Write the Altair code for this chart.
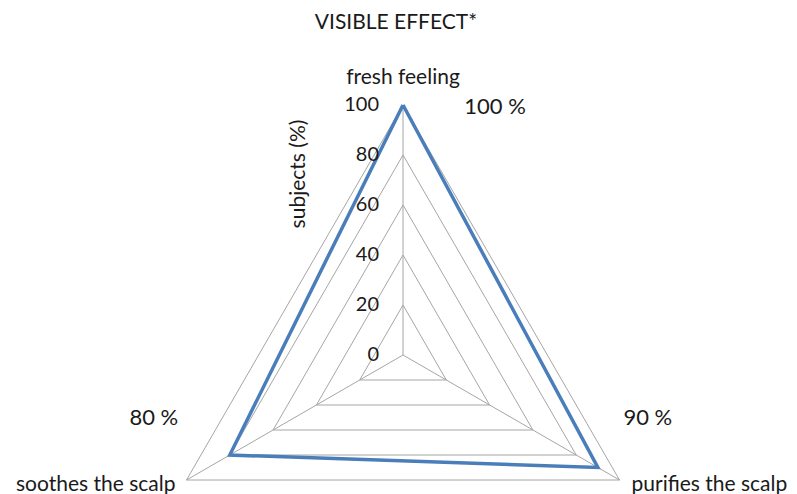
import altair as alt
import numpy as np
import pandas as pd

# ---- data ----
categories = ["fresh feeling", "purifies the scalp", "soothes the scalp"]
values = [100, 90, 80]
grid_levels = [20, 40, 60, 80, 100]
tick_values = [0, 20, 40, 60, 80, 100]
tick_labels = ["0", "20", "40", "60", "80", "100"]
value_labels = ["100 %", "90 %", "80 %"]
title_text = "VISIBLE EFFECT*"
axis_title = "subjects (%)"

# ---- layout ----
W, H = 781, 486
CX, CY = 395.0, 347.0      # centre of the radar in view pixels
PPU = 2.5                  # pixels per value unit
FONT = "Lato"
FS = 21
FS_TICK = 20
FS_VAL = 22
GRID_COLOR = "#A6A6A6"
LINE_COLOR = "#4A7EBB"
TEXT_COLOR = "#1A1A1A"

angles = np.deg2rad([90.0, -30.0, 210.0])
ux, uy = np.cos(angles), np.sin(angles)

xdom = [-CX / PPU, (W - CX) / PPU]
ydom = [(CY - H) / PPU, CY / PPU]
xs = alt.Scale(domain=xdom, nice=False, zero=False)
ys = alt.Scale(domain=ydom, nice=False, zero=False)

def X(f="x"):
    return alt.X(f"{f}:Q", scale=xs, axis=None)

def Y(f="y"):
    return alt.Y(f"{f}:Q", scale=ys, axis=None)

# grid triangles
grid_rows = []
for lv in grid_levels:
    for k in range(4):
        i = k % 3
        grid_rows.append({"level": lv, "o": k, "x": lv * ux[i], "y": lv * uy[i]})
grid_df = pd.DataFrame(grid_rows)

# spokes
spoke_df = pd.DataFrame({"x": [0.0] * 3, "y": [0.0] * 3,
                         "x2": [100 * ux[i] for i in range(3)],
                         "y2": [100 * uy[i] for i in range(3)]})

# series
ser_rows = []
for k in range(4):
    i = k % 3
    ser_rows.append({"o": k, "x": values[i] * ux[i], "y": values[i] * uy[i]})
ser_df = pd.DataFrame(ser_rows)

grid = alt.Chart(grid_df).mark_line(color=GRID_COLOR, strokeWidth=1).encode(
    x=X(), y=Y(), order="o:Q", detail="level:N")
spokes = alt.Chart(spoke_df).mark_rule(color=GRID_COLOR, strokeWidth=1).encode(
    x=X(), y=Y(), x2="x2:Q", y2="y2:Q")
series = alt.Chart(ser_df).mark_line(color=LINE_COLOR, strokeWidth=3.5, strokeJoin="miter").encode(
    x=X(), y=Y(), order="o:Q")

# tick labels along vertical axis
tick_df = pd.DataFrame({"x": [-9.6] * len(tick_values), "y": tick_values, "t": tick_labels})
ticks = alt.Chart(tick_df).mark_text(align="right", baseline="middle", font=FONT,
                                      fontSize=FS_TICK, color=TEXT_COLOR).encode(
    x=X(), y=Y(), text="t:N")

# category labels (offsets in pixels from the outer vertices)
cat_off = [(0, 27), (12, -5), (-11, -5)]
cat_align = ["center", "left", "right"]
cat_layers = []
for i in range(3):
    d = pd.DataFrame({"x": [100 * ux[i] + cat_off[i][0] / PPU],
                      "y": [100 * uy[i] + cat_off[i][1] / PPU],
                      "t": [categories[i]]})
    cat_layers.append(alt.Chart(d).mark_text(align=cat_align[i], baseline="middle", font=FONT,
                                             fontSize=FS, color=TEXT_COLOR).encode(
        x=X(), y=Y(), text="t:N"))

# value labels (offsets in pixels from the data points)
val_off = [(92, -2), (50, 49.5), (-76, 37)]
vrows = []
for i in range(3):
    vrows.append({"x": values[i] * ux[i] + val_off[i][0] / PPU,
                  "y": values[i] * uy[i] + val_off[i][1] / PPU,
                  "t": value_labels[i]})
val_df = pd.DataFrame(vrows)
vals = alt.Chart(val_df).mark_text(align="center", baseline="middle", font=FONT,
                                    fontSize=FS_VAL, color=TEXT_COLOR).encode(
    x=X(), y=Y(), text="t:N")

# title and axis title
title_df = pd.DataFrame({"x": [-7 / PPU], "y": [(CY - 15) / PPU], "t": [title_text]})
title = alt.Chart(title_df).mark_text(align="center", baseline="middle", font=FONT,
                                       fontSize=FS, color=TEXT_COLOR).encode(
    x=X(), y=Y(), text="t:N")
atitle_df = pd.DataFrame({"x": [-104 / PPU], "y": [181 / PPU], "t": [axis_title]})
atitle = alt.Chart(atitle_df).mark_text(align="center", baseline="middle", font=FONT,
                                         fontSize=FS, angle=270, color=TEXT_COLOR).encode(
    x=X(), y=Y(), text="t:N")

chart = alt.layer(grid, spokes, series, ticks, *cat_layers, vals, title, atitle).properties(
    width=W, height=H, padding=0, autosize=alt.AutoSizeParams(type="none")
).configure_view(stroke=None)

chart.save("out.html", embed_options={"renderer": "svg", "actions": False})
